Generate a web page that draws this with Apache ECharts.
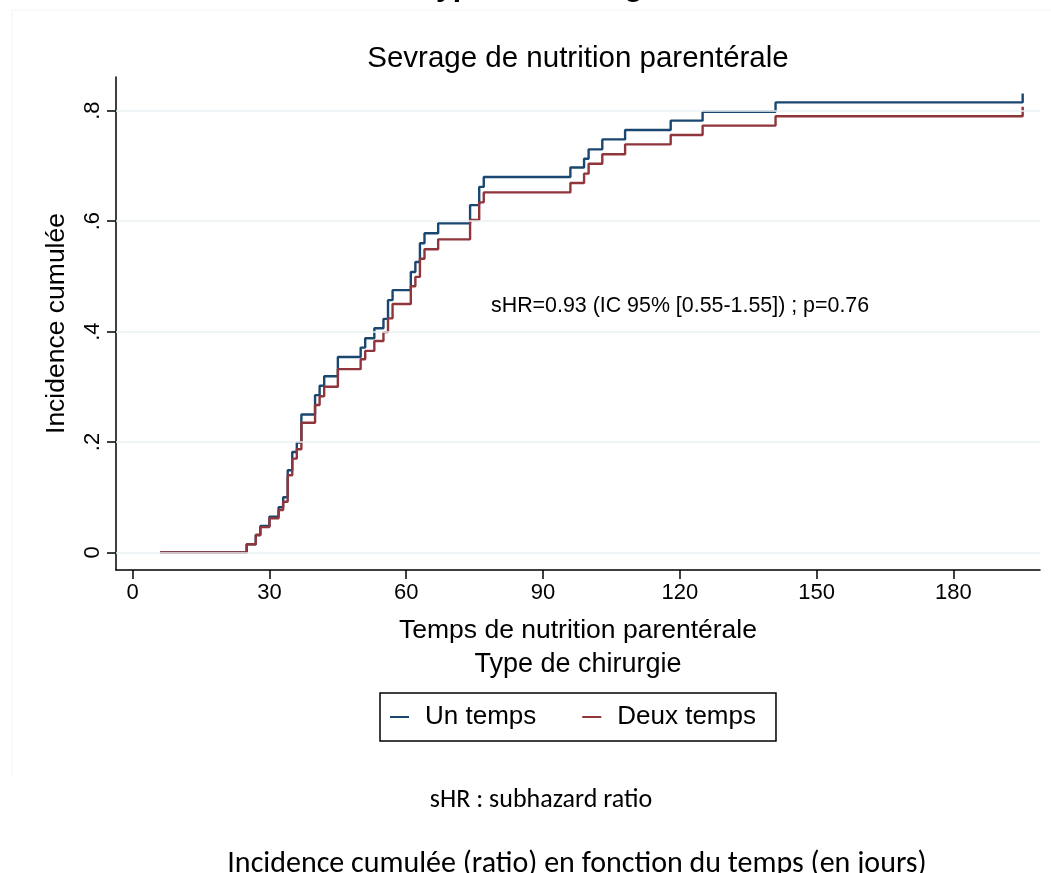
<!DOCTYPE html>
<html><head><meta charset="utf-8">
<script src="https://cdn.jsdelivr.net/npm/echarts@6/dist/echarts.min.js"></script>
<style>html,body{margin:0;padding:0;background:#fff}#c{width:1051px;height:873px}</style>
</head><body><div id="c"></div>
<script>
// Cumulative incidence step data (days, ratio)
const timesUn = [6, 25, 27, 28, 30, 32, 33, 34, 35, 36, 37, 40, 41, 42, 45, 50, 51, 53, 55, 56, 57, 61, 62, 63, 64, 67, 74, 76, 77, 96, 99, 100, 103, 108, 118, 125, 141, 195.2];
const valuesUn = [0, 0.015, 0.031, 0.048, 0.065, 0.082, 0.10, 0.149, 0.182, 0.199, 0.25, 0.285, 0.302, 0.319, 0.354, 0.371, 0.388, 0.406, 0.423, 0.457, 0.475, 0.508, 0.526, 0.56, 0.578, 0.596, 0.629, 0.662, 0.68, 0.697, 0.713, 0.73, 0.748, 0.765, 0.782, 0.798, 0.815, 0.831];
const timesDeux = [6, 25, 27, 28, 30, 32, 33, 34, 35, 36, 37, 40, 41, 42, 45, 50, 51, 53, 55, 56, 57, 61, 62, 63, 64, 67, 74, 76, 77, 96, 99, 100, 103, 108, 118, 125, 141, 195.2];
const valuesDeux = [0, 0.015, 0.032, 0.046, 0.062, 0.077, 0.092, 0.14, 0.17, 0.187, 0.235, 0.267, 0.283, 0.30, 0.332, 0.35, 0.365, 0.383, 0.399, 0.424, 0.45, 0.482, 0.499, 0.532, 0.549, 0.567, 0.602, 0.634, 0.652, 0.669, 0.686, 0.704, 0.721, 0.739, 0.756, 0.773, 0.79, 0.807];
const seriesNames = ['Un temps', 'Deux temps'];
const xTicks = [0, 30, 60, 90, 120, 150, 180];
const yTicks = [0, 0.2, 0.4, 0.6, 0.8];
const yTickLabels = ['0', '.2', '.4', '.6', '.8'];

const FONT = 'Liberation Sans, Arial, sans-serif';
const chart = echarts.init(document.getElementById('c'), null, {renderer: 'canvas'});

chart.setOption({
  animation: false,
  backgroundColor: '#fff',
  title: {
    text: 'Sevrage de nutrition parentérale',
    left: 573, top: 39, textAlign: 'center',
    textStyle: {fontFamily: FONT, fontSize: 29.5, fontWeight: 'normal', color: '#000'}
  },
  grid: {left: 116, right: 11, top: 77, bottom: 303, containLabel: false},
  xAxis: {
    type: 'value', min: -3.66, max: 199,
    name: 'Temps de nutrition parentérale', nameLocation: 'middle', nameGap: 47,
    nameTextStyle: {fontFamily: FONT, fontSize: 26.5, color: '#000'},
    axisLine: {show: true, onZero: false, lineStyle: {color: '#000', width: 1.5}},
    axisTick: {show: true, inside: false, length: 9, customValues: xTicks, lineStyle: {color: '#000', width: 1.5}},
    axisLabel: {customValues: xTicks, fontFamily: FONT, fontSize: 22, color: '#000', margin: 12},
    splitLine: {show: false}
  },
  yAxis: {
    type: 'value', min: -0.0317, max: 0.861,
    name: 'Incidence cumulée', nameLocation: 'middle', nameGap: 46, nameRotate: 90,
    nameTextStyle: {fontFamily: FONT, fontSize: 26.5, color: '#000'},
    axisLine: {show: true, onZero: false, lineStyle: {color: '#000', width: 1.5}},
    axisTick: {show: true, inside: false, length: 9, customValues: yTicks, lineStyle: {color: '#000', width: 1.5}},
    axisLabel: {customValues: yTicks, rotate: 90, fontFamily: FONT, fontSize: 22, color: '#000', margin: 12,
      formatter: v => yTickLabels[yTicks.findIndex(t => Math.abs(t - v) < 1e-6)] ?? ''},
    splitLine: {show: false}
  },
  legend: {
    data: seriesNames,
    left: 380, top: 693,
    orient: 'horizontal',
    icon: 'rect', itemWidth: 19, itemHeight: 2, itemGap: 46,
    padding: [10, 20, 10, 10],
    borderColor: '#000', borderWidth: 1.5, borderRadius: 0,
    textStyle: {fontFamily: FONT, fontSize: 26, color: '#000', padding: [0, 0, 0, 11], lineHeight: 28}
  },
  graphic: [
    {type: 'polyline', silent: true, shape: {points: [[12, 775], [12, 10], [1060, 10]]},
      style: {stroke: '#f4f4f4', lineWidth: 1, fill: null}},
    {type: 'text', silent: true, style: {text: 'Type de chirurgie', x: 420, y: 3, textVerticalAlign: 'bottom',
      font: 'bold 30px Liberation Sans, Arial, sans-serif', fill: '#000'}},
    {type: 'text', silent: true, style: {text: 'sHR=0.93 (IC 95% [0.55-1.55]) ; p=0.76', x: 491, y: 306,
      textVerticalAlign: 'middle', font: '21.4px Liberation Sans, Arial, sans-serif', fill: '#000'}},
    {type: 'text', silent: true, style: {text: 'Type de chirurgie', x: 578, y: 665, textAlign: 'center',
      textVerticalAlign: 'middle', font: '27px Liberation Sans, Arial, sans-serif', fill: '#000'}},
    {type: 'text', silent: true, style: {text: 'sHR : subhazard ratio', x: 541, y: 800, textAlign: 'center',
      textVerticalAlign: 'middle', font: '26px Carlito, Lato, sans-serif', fill: '#000'}},
    {type: 'text', silent: true, style: {text: 'Incidence cumulée (ratio) en fonction du temps (en jours)', x: 577, y: 864,
      textAlign: 'center', textVerticalAlign: 'middle', font: '30px Carlito, Lato, sans-serif', fill: '#000'}}
  ],
  series: [
    {
      name: 'grid', type: 'line', data: [], z: 1, silent: true,
      markLine: {silent: true, symbol: ['none', 'none'], label: {show: false},
        lineStyle: {color: '#eaf2f3', width: 1.5, type: 'solid'},
        data: yTicks.map(v => ({yAxis: v}))}
    },
    {
      name: seriesNames[0], type: 'line', step: 'end', showSymbol: false, symbol: 'none', z: 3,
      data: timesUn.map((t, i) => [t, valuesUn[i]]),
      lineStyle: {color: '#1a476f', width: 2.4}, itemStyle: {color: '#1a476f'}
    },
    {
      name: seriesNames[1], type: 'line', step: 'end', showSymbol: false, symbol: 'none', z: 4,
      data: timesDeux.map((t, i) => [t, valuesDeux[i]]),
      lineStyle: {color: '#90353b', width: 2.4}, itemStyle: {color: '#90353b'}
    }
  ]
});
</script>
</body></html>
